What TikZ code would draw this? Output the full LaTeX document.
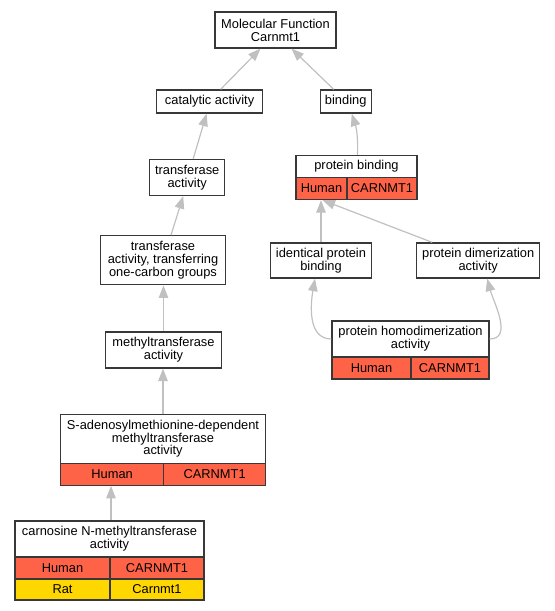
\documentclass[tikz,border=0pt]{standalone}
\usepackage{fontspec}
\setmainfont{Liberation Sans}
\usetikzlibrary{arrows.meta}
\definecolor{boxline}{HTML}{383838}
\definecolor{isaline}{HTML}{C0C0C0}
\definecolor{human}{HTML}{FF6347}
\definecolor{rat}{HTML}{FFD700}

\begin{document}
\begin{tikzpicture}[x=1bp,y=-1bp,
  term/.style={draw=boxline, line width=1.3bp, fill=white, inner sep=0pt, align=center,
    font=\fontsize{12.9}{13}\selectfont},
  humancell/.style={term, fill=human},
  ratcell/.style={term, fill=rat},
  isa/.style={draw=isaline, line width=1.2bp, -{Triangle[length=12.5bp,width=9.5bp]}}]
  \useasboundingbox (0,0) rectangle (555,611);

  % top of the tree
  \node[term, minimum width=121bp, minimum height=36bp] (mf) at (275.5,30) {Molecular Function\\Carnmt1};
  \node[term, minimum width=106bp, minimum height=23bp] (cat) at (209.6,101.5) {catalytic activity};
  \node[term, minimum width=51bp, minimum height=23bp] (bind) at (345.7,101.5) {binding};

  % catalytic branch
  \node[term, minimum width=75bp, minimum height=36bp] (trans) at (187.2,177.5) {transferase\\activity};
  \node[term, minimum width=125bp, minimum height=49bp] (tatocg) at (163,260.3) {transferase\\activity, transferring\\one-carbon groups};
  \node[term, minimum width=116bp, minimum height=36bp] (meth) at (163.5,350) {methyltransferase\\activity};

  \node[term, minimum width=205bp, minimum height=49bp] (sam) at (163,438.7) {S-adenosylmethionine-dependent\\methyltransferase\\activity};
  \node[humancell, minimum width=103.2bp, minimum height=22bp] (samhum) at (112.1,474.2) {Human};
  \node[humancell, minimum width=101.8bp, minimum height=22bp] (samgene) at (214.6,474.2) {CARNMT1};

  \node[term, minimum width=189bp, minimum height=36bp] (carn) at (109.5,539) {carnosine N-methyltransferase\\activity};
  \node[humancell, minimum width=95bp, minimum height=22bp] (carnhum) at (62.5,568) {Human};
  \node[humancell, minimum width=94bp, minimum height=22bp] (carngene) at (157,568) {CARNMT1};
  \node[ratcell, minimum width=95bp, minimum height=21bp] (carnrat) at (62.5,589.5) {Rat};
  \node[ratcell, minimum width=94bp, minimum height=21bp] (carnratgene) at (157,589.5) {Carnmt1};

  % binding branch
  \node[term, minimum width=121bp, minimum height=22bp] (pb) at (356.5,166.5) {protein binding};
  \node[humancell, minimum width=51bp, minimum height=22bp] (pbhum) at (321.5,188.5) {Human};
  \node[humancell, minimum width=70bp, minimum height=22bp] (pbgene) at (382,188.5) {CARNMT1};

  \node[term, minimum width=101bp, minimum height=35bp] (ident) at (321,260.5) {identical protein\\binding};
  \node[term, minimum width=123bp, minimum height=35bp] (dimer) at (478.2,260.5) {protein dimerization\\activity};

  \node[term, minimum width=157bp, minimum height=36bp] (homo) at (410.5,339) {protein homodimerization\\activity};
  \node[humancell, minimum width=79bp, minimum height=22bp] (homohum) at (371.5,368) {Human};
  \node[humancell, minimum width=78bp, minimum height=22bp] (homogene) at (450,368) {CARNMT1};

  % is-a links
  \draw[isa] ([xshift=11bp]cat.north) -- ([xshift=-15bp]mf.south);
  \draw[isa] ([xshift=-12bp]bind.north) -- ([xshift=16bp]mf.south);
  \draw[isa] ([xshift=6bp]trans.north) -- ([xshift=-3bp]cat.south);
  \draw[isa] ([xshift=8bp]tatocg.north) -- ([xshift=-4bp]trans.south);
  \draw[isa] (meth.north) -- (meth.north |- tatocg.south);
  \draw[isa] (sam.north) -- (sam.north |- meth.south);
  \draw[isa] ([xshift=1.5bp]carn.north) -- ([xshift=1.5bp]carn.north |- samhum.south);

  \draw[isa] ([xshift=1bp]pb.north) to[out=88,in=-72] ([xshift=6bp]bind.south);
  \draw[isa] (ident.north) -- (ident.north |- pbhum.south);
  \draw[isa] ([xshift=-46bp]dimer.north) -- ([xshift=1bp]pbhum.south);
  \draw[isa] (homo.west) to[out=180,in=-100] ([xshift=-6bp]ident.south);
  \draw[isa] (homo.east) to[out=0,in=-75] ([xshift=9bp]dimer.south);
\end{tikzpicture}
\end{document}
